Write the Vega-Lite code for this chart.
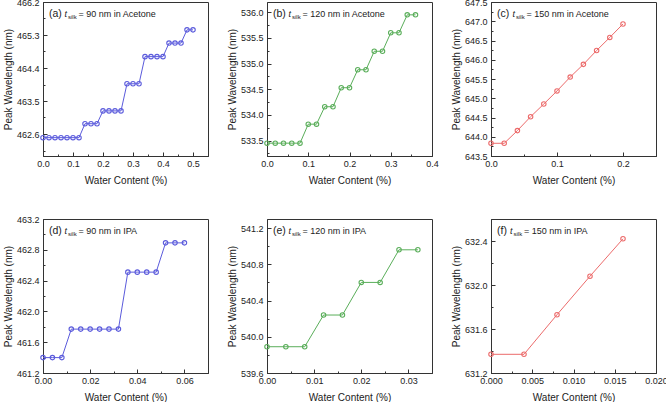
{
  "$schema": "https://vega.github.io/schema/vega-lite/v6.json",
  "padding": {"left": 2, "top": -3, "right": 0, "bottom": 0},
  "background": "white",
  "datasets": {
    "a": [
      {"w": 0, "p": 462.5}, {"w": 0.02, "p": 462.5}, {"w": 0.04, "p": 462.5}, {"w": 0.06, "p": 462.5}, {"w": 0.08, "p": 462.5}, {"w": 0.1, "p": 462.5}, {"w": 0.12, "p": 462.5},
      {"w": 0.14, "p": 462.88}, {"w": 0.16, "p": 462.88}, {"w": 0.18, "p": 462.88},
      {"w": 0.2, "p": 463.23}, {"w": 0.22, "p": 463.23}, {"w": 0.24, "p": 463.23}, {"w": 0.26, "p": 463.23},
      {"w": 0.28, "p": 463.97}, {"w": 0.3, "p": 463.97}, {"w": 0.32, "p": 463.97},
      {"w": 0.34, "p": 464.71}, {"w": 0.36, "p": 464.71}, {"w": 0.38, "p": 464.71}, {"w": 0.4, "p": 464.71},
      {"w": 0.42, "p": 465.08}, {"w": 0.44, "p": 465.08}, {"w": 0.46, "p": 465.08},
      {"w": 0.48, "p": 465.44}, {"w": 0.5, "p": 465.44}
    ],
    "b": [
      {"w": 0, "p": 533.45}, {"w": 0.02, "p": 533.45}, {"w": 0.04, "p": 533.45}, {"w": 0.06, "p": 533.45}, {"w": 0.08, "p": 533.45},
      {"w": 0.1, "p": 533.82}, {"w": 0.12, "p": 533.82},
      {"w": 0.14, "p": 534.16}, {"w": 0.16, "p": 534.16},
      {"w": 0.18, "p": 534.53}, {"w": 0.2, "p": 534.53},
      {"w": 0.22, "p": 534.88}, {"w": 0.24, "p": 534.88},
      {"w": 0.26, "p": 535.24}, {"w": 0.28, "p": 535.24},
      {"w": 0.3, "p": 535.6}, {"w": 0.32, "p": 535.6},
      {"w": 0.34, "p": 535.95}, {"w": 0.36, "p": 535.95}
    ],
    "c": [
      {"w": 0, "p": 643.83}, {"w": 0.02, "p": 643.83}, {"w": 0.04, "p": 644.16}, {"w": 0.06, "p": 644.52}, {"w": 0.08, "p": 644.85},
      {"w": 0.1, "p": 645.19}, {"w": 0.12, "p": 645.55}, {"w": 0.14, "p": 645.88}, {"w": 0.16, "p": 646.24}, {"w": 0.18, "p": 646.58}, {"w": 0.2, "p": 646.93}
    ],
    "d": [
      {"w": 0, "p": 461.4}, {"w": 0.004, "p": 461.4}, {"w": 0.008, "p": 461.4},
      {"w": 0.012, "p": 461.77}, {"w": 0.016, "p": 461.77}, {"w": 0.02, "p": 461.77}, {"w": 0.024, "p": 461.77}, {"w": 0.028, "p": 461.77}, {"w": 0.032, "p": 461.77},
      {"w": 0.036, "p": 462.51}, {"w": 0.04, "p": 462.51}, {"w": 0.044, "p": 462.51}, {"w": 0.048, "p": 462.51},
      {"w": 0.052, "p": 462.89}, {"w": 0.056, "p": 462.89}, {"w": 0.06, "p": 462.89}
    ],
    "e": [
      {"w": 0, "p": 539.89}, {"w": 0.004, "p": 539.89}, {"w": 0.008, "p": 539.89},
      {"w": 0.012, "p": 540.24}, {"w": 0.016, "p": 540.24},
      {"w": 0.02, "p": 540.6}, {"w": 0.024, "p": 540.6},
      {"w": 0.028, "p": 540.96}, {"w": 0.032, "p": 540.96}
    ],
    "f": [
      {"w": 0, "p": 631.37}, {"w": 0.004, "p": 631.37}, {"w": 0.008, "p": 631.73}, {"w": 0.012, "p": 632.08}, {"w": 0.016, "p": 632.42}
    ]
  },
  "config": {
    "font": "Liberation Sans",
    "view": {"stroke": "#333", "strokeWidth": 1},
    "axis": {
      "grid": false, "domainColor": "#333", "tickColor": "#333", "labelColor": "#222", "titleColor": "#222",
      "labelFont": "Liberation Sans", "titleFont": "Liberation Sans", "labelFontSize": 9, "titleFontSize": 10,
      "titleFontWeight": "normal", "labelOverlap": false, "labelFlush": false, "tickWidth": 1
    },
    "axisX": {"labelPadding": 7, "titlePadding": 5},
    "axisY": {"labelPadding": 8, "titlePadding": 3},
    "text": {"font": "Liberation Sans", "align": "left", "baseline": "middle", "color": "#222"},
    "line": {"strokeWidth": 1},
    "point": {"shape": "circle", "filled": false, "size": 20, "strokeWidth": 1.1, "opacity": 1}
  },
  "columns": 3,
  "bounds": "flush",
  "spacing": {"row": 63, "column": 59},
  "concat": [
    {
      "width": 165, "height": 154,
      "layer": [
        {
          "data": {"name": "a"},
          "mark": {"type": "line", "color": "#5b5bdc"},
          "encoding": {
            "x": {"field": "w", "type": "quantitative", "scale": {"domain": [0, 0.55], "nice": false, "zero": false},
              "axis": {"title": "Water Content (%)", "tickCount": 100, "labelOverlap": false, "values": [0, 0.05, 0.1, 0.15, 0.2, 0.25, 0.3, 0.35, 0.4, 0.45, 0.5, 0.55], "format": ".1f",
                "labelExpr": "abs(datum.value*10-round(datum.value*10))>0.01 ? '' : datum.label",
                "tickSize": {"condition": {"test": "abs(datum.value*10-round(datum.value*10))>0.01", "value": -2}, "value": -4}}},
            "y": {"field": "p", "type": "quantitative", "scale": {"domain": [462.0, 466.2], "nice": false, "zero": false},
              "axis": {"title": "Peak Wavelength (nm)", "tickCount": 100, "labelOverlap": false, "values": [462.15, 462.6, 463.05, 463.5, 463.95, 464.4, 464.85, 465.3, 465.75, 466.2], "format": ".1f",
                "labelExpr": "abs((datum.value-462.6)/0.9-round((datum.value-462.6)/0.9))>0.1 ? '' : datum.label",
                "tickSize": {"condition": {"test": "abs((datum.value-462.6)/0.9-round((datum.value-462.6)/0.9))>0.1", "value": -2}, "value": -4}}}
          }
        },
        {"data": {"name": "a"}, "mark": {"type": "point", "color": "#5b5bdc"},
          "encoding": {"x": {"field": "w", "type": "quantitative"}, "y": {"field": "p", "type": "quantitative"}}},
        {"data": {"values": [{}]}, "mark": {"type": "text", "text": "(a)", "fontSize": 10.5},
          "encoding": {"x": {"datum": 0.02, "type": "quantitative"}, "y": {"datum": 465.87, "type": "quantitative"}}},
        {"data": {"values": [{}]}, "mark": {"type": "text", "text": "t", "fontSize": 9, "fontStyle": "italic", "dx": 15.5},
          "encoding": {"x": {"datum": 0.02, "type": "quantitative"}, "y": {"datum": 465.87, "type": "quantitative"}}},
        {"data": {"values": [{}]}, "mark": {"type": "text", "text": "silk", "fontSize": 6, "dx": 19, "dy": 3},
          "encoding": {"x": {"datum": 0.02, "type": "quantitative"}, "y": {"datum": 465.87, "type": "quantitative"}}},
        {"data": {"values": [{}]}, "mark": {"type": "text", "text": "= 90 nm in Acetone", "fontSize": 9, "dx": 29.5},
          "encoding": {"x": {"datum": 0.02, "type": "quantitative"}, "y": {"datum": 465.87, "type": "quantitative"}}}
      ]
    },
    {
      "width": 165, "height": 154,
      "layer": [
        {
          "data": {"name": "b"},
          "mark": {"type": "line", "color": "#5aae5a"},
          "encoding": {
            "x": {"field": "w", "type": "quantitative", "scale": {"domain": [0, 0.4], "nice": false, "zero": false},
              "axis": {"title": "Water Content (%)", "tickCount": 100, "labelOverlap": false, "values": [0, 0.05, 0.1, 0.15, 0.2, 0.25, 0.3, 0.35, 0.4], "format": ".1f",
                "labelExpr": "abs(datum.value*10-round(datum.value*10))>0.01 ? '' : datum.label",
                "tickSize": {"condition": {"test": "abs(datum.value*10-round(datum.value*10))>0.01", "value": -2}, "value": -4}}},
            "y": {"field": "p", "type": "quantitative", "scale": {"domain": [533.2, 536.2], "nice": false, "zero": false},
              "axis": {"title": "Peak Wavelength (nm)", "tickCount": 100, "labelOverlap": false, "values": [533.25, 533.5, 533.75, 534.0, 534.25, 534.5, 534.75, 535.0, 535.25, 535.5, 535.75, 536.0], "format": ".1f",
                "labelExpr": "abs(datum.value*2-round(datum.value*2))>0.1 ? '' : datum.label",
                "tickSize": {"condition": {"test": "abs(datum.value*2-round(datum.value*2))>0.1", "value": -2}, "value": -4}}}
          }
        },
        {"data": {"name": "b"}, "mark": {"type": "point", "color": "#5aae5a"},
          "encoding": {"x": {"field": "w", "type": "quantitative"}, "y": {"field": "p", "type": "quantitative"}}},
        {"data": {"values": [{}]}, "mark": {"type": "text", "text": "(b)", "fontSize": 10.5},
          "encoding": {"x": {"datum": 0.0145, "type": "quantitative"}, "y": {"datum": 535.966, "type": "quantitative"}}},
        {"data": {"values": [{}]}, "mark": {"type": "text", "text": "t", "fontSize": 9, "fontStyle": "italic", "dx": 15.5},
          "encoding": {"x": {"datum": 0.0145, "type": "quantitative"}, "y": {"datum": 535.966, "type": "quantitative"}}},
        {"data": {"values": [{}]}, "mark": {"type": "text", "text": "silk", "fontSize": 6, "dx": 19, "dy": 3},
          "encoding": {"x": {"datum": 0.0145, "type": "quantitative"}, "y": {"datum": 535.966, "type": "quantitative"}}},
        {"data": {"values": [{}]}, "mark": {"type": "text", "text": "= 120 nm in Acetone", "fontSize": 9, "dx": 29.5},
          "encoding": {"x": {"datum": 0.0145, "type": "quantitative"}, "y": {"datum": 535.966, "type": "quantitative"}}}
      ]
    },
    {
      "width": 165, "height": 154,
      "layer": [
        {
          "data": {"name": "c"},
          "mark": {"type": "line", "color": "#ec6b6b"},
          "encoding": {
            "x": {"field": "w", "type": "quantitative", "scale": {"domain": [0, 0.25], "nice": false, "zero": false},
              "axis": {"title": "Water Content (%)", "tickCount": 100, "labelOverlap": false, "values": [0, 0.05, 0.1, 0.15, 0.2, 0.25], "format": ".1f",
                "labelExpr": "abs(datum.value*10-round(datum.value*10))>0.01 ? '' : datum.label",
                "tickSize": {"condition": {"test": "abs(datum.value*10-round(datum.value*10))>0.01", "value": -2}, "value": -4}}},
            "y": {"field": "p", "type": "quantitative", "scale": {"domain": [643.5, 647.5], "nice": false, "zero": false},
              "axis": {"title": "Peak Wavelength (nm)", "tickCount": 100, "labelOverlap": false, "values": [643.5, 643.75, 644.0, 644.25, 644.5, 644.75, 645.0, 645.25, 645.5, 645.75, 646.0, 646.25, 646.5, 646.75, 647.0, 647.25, 647.5], "format": ".1f",
                "labelExpr": "abs(datum.value*2-round(datum.value*2))>0.1 ? '' : datum.label",
                "tickSize": {"condition": {"test": "abs(datum.value*2-round(datum.value*2))>0.1", "value": -2}, "value": -4}}}
          }
        },
        {"data": {"name": "c"}, "mark": {"type": "point", "color": "#ec6b6b"},
          "encoding": {"x": {"field": "w", "type": "quantitative"}, "y": {"field": "p", "type": "quantitative"}}},
        {"data": {"values": [{}]}, "mark": {"type": "text", "text": "(c)", "fontSize": 10.5},
          "encoding": {"x": {"datum": 0.0091, "type": "quantitative"}, "y": {"datum": 647.19, "type": "quantitative"}}},
        {"data": {"values": [{}]}, "mark": {"type": "text", "text": "t", "fontSize": 9, "fontStyle": "italic", "dx": 15.5},
          "encoding": {"x": {"datum": 0.0091, "type": "quantitative"}, "y": {"datum": 647.19, "type": "quantitative"}}},
        {"data": {"values": [{}]}, "mark": {"type": "text", "text": "silk", "fontSize": 6, "dx": 19, "dy": 3},
          "encoding": {"x": {"datum": 0.0091, "type": "quantitative"}, "y": {"datum": 647.19, "type": "quantitative"}}},
        {"data": {"values": [{}]}, "mark": {"type": "text", "text": "= 150 nm in Acetone", "fontSize": 9, "dx": 29.5},
          "encoding": {"x": {"datum": 0.0091, "type": "quantitative"}, "y": {"datum": 647.19, "type": "quantitative"}}}
      ]
    },
    {
      "width": 165, "height": 154,
      "layer": [
        {
          "data": {"name": "d"},
          "mark": {"type": "line", "color": "#5b5bdc"},
          "encoding": {
            "x": {"field": "w", "type": "quantitative", "scale": {"domain": [0, 0.07], "nice": false, "zero": false},
              "axis": {"title": "Water Content (%)", "tickCount": 100, "labelOverlap": false, "values": [0, 0.01, 0.02, 0.03, 0.04, 0.05, 0.06, 0.07], "format": ".2f",
                "labelExpr": "abs(datum.value*50-round(datum.value*50))>0.01 ? '' : datum.label",
                "tickSize": {"condition": {"test": "abs(datum.value*50-round(datum.value*50))>0.01", "value": -2}, "value": -4}}},
            "y": {"field": "p", "type": "quantitative", "scale": {"domain": [461.2, 463.2], "nice": false, "zero": false},
              "axis": {"title": "Peak Wavelength (nm)", "tickCount": 100, "labelOverlap": false, "values": [461.2, 461.4, 461.6, 461.8, 462.0, 462.2, 462.4, 462.6, 462.8, 463.0, 463.2], "format": ".1f",
                "labelExpr": "abs((datum.value-461.2)/0.4-round((datum.value-461.2)/0.4))>0.1 ? '' : datum.label",
                "tickSize": {"condition": {"test": "abs((datum.value-461.2)/0.4-round((datum.value-461.2)/0.4))>0.1", "value": -2}, "value": -4}}}
          }
        },
        {"data": {"name": "d"}, "mark": {"type": "point", "color": "#5b5bdc"},
          "encoding": {"x": {"field": "w", "type": "quantitative"}, "y": {"field": "p", "type": "quantitative"}}},
        {"data": {"values": [{}]}, "mark": {"type": "text", "text": "(d)", "fontSize": 10.5},
          "encoding": {"x": {"datum": 0.00255, "type": "quantitative"}, "y": {"datum": 463.044, "type": "quantitative"}}},
        {"data": {"values": [{}]}, "mark": {"type": "text", "text": "t", "fontSize": 9, "fontStyle": "italic", "dx": 15.5},
          "encoding": {"x": {"datum": 0.00255, "type": "quantitative"}, "y": {"datum": 463.044, "type": "quantitative"}}},
        {"data": {"values": [{}]}, "mark": {"type": "text", "text": "silk", "fontSize": 6, "dx": 19, "dy": 3},
          "encoding": {"x": {"datum": 0.00255, "type": "quantitative"}, "y": {"datum": 463.044, "type": "quantitative"}}},
        {"data": {"values": [{}]}, "mark": {"type": "text", "text": "= 90 nm in IPA", "fontSize": 9, "dx": 29.5},
          "encoding": {"x": {"datum": 0.00255, "type": "quantitative"}, "y": {"datum": 463.044, "type": "quantitative"}}}
      ]
    },
    {
      "width": 165, "height": 154,
      "layer": [
        {
          "data": {"name": "e"},
          "mark": {"type": "line", "color": "#5aae5a"},
          "encoding": {
            "x": {"field": "w", "type": "quantitative", "scale": {"domain": [0, 0.035], "nice": false, "zero": false},
              "axis": {"title": "Water Content (%)", "tickCount": 100, "labelOverlap": false, "values": [0, 0.005, 0.01, 0.015, 0.02, 0.025, 0.03, 0.035], "format": ".2f",
                "labelExpr": "abs(datum.value*100-round(datum.value*100))>0.01 ? '' : datum.label",
                "tickSize": {"condition": {"test": "abs(datum.value*100-round(datum.value*100))>0.01", "value": -2}, "value": -4}}},
            "y": {"field": "p", "type": "quantitative", "scale": {"domain": [539.6, 541.3], "nice": false, "zero": false},
              "axis": {"title": "Peak Wavelength (nm)", "tickCount": 100, "labelOverlap": false, "values": [539.6, 539.8, 540.0, 540.2, 540.4, 540.6, 540.8, 541.0, 541.2], "format": ".1f",
                "labelExpr": "abs((datum.value-539.6)/0.4-round((datum.value-539.6)/0.4))>0.1 ? '' : datum.label",
                "tickSize": {"condition": {"test": "abs((datum.value-539.6)/0.4-round((datum.value-539.6)/0.4))>0.1", "value": -2}, "value": -4}}}
          }
        },
        {"data": {"name": "e"}, "mark": {"type": "point", "color": "#5aae5a"},
          "encoding": {"x": {"field": "w", "type": "quantitative"}, "y": {"field": "p", "type": "quantitative"}}},
        {"data": {"values": [{}]}, "mark": {"type": "text", "text": "(e)", "fontSize": 10.5},
          "encoding": {"x": {"datum": 0.00127, "type": "quantitative"}, "y": {"datum": 541.167, "type": "quantitative"}}},
        {"data": {"values": [{}]}, "mark": {"type": "text", "text": "t", "fontSize": 9, "fontStyle": "italic", "dx": 15.5},
          "encoding": {"x": {"datum": 0.00127, "type": "quantitative"}, "y": {"datum": 541.167, "type": "quantitative"}}},
        {"data": {"values": [{}]}, "mark": {"type": "text", "text": "silk", "fontSize": 6, "dx": 19, "dy": 3},
          "encoding": {"x": {"datum": 0.00127, "type": "quantitative"}, "y": {"datum": 541.167, "type": "quantitative"}}},
        {"data": {"values": [{}]}, "mark": {"type": "text", "text": "= 120 nm in IPA", "fontSize": 9, "dx": 29.5},
          "encoding": {"x": {"datum": 0.00127, "type": "quantitative"}, "y": {"datum": 541.167, "type": "quantitative"}}}
      ]
    },
    {
      "width": 165, "height": 154,
      "layer": [
        {
          "data": {"name": "f"},
          "mark": {"type": "line", "color": "#ec6b6b"},
          "encoding": {
            "x": {"field": "w", "type": "quantitative", "scale": {"domain": [0, 0.02], "nice": false, "zero": false},
              "axis": {"title": "Water Content (%)", "tickCount": 100, "labelOverlap": false, "values": [0, 0.0025, 0.005, 0.0075, 0.01, 0.0125, 0.015, 0.0175, 0.02], "format": ".3f",
                "labelExpr": "abs(datum.value*200-round(datum.value*200))>0.01 ? '' : datum.label",
                "tickSize": {"condition": {"test": "abs(datum.value*200-round(datum.value*200))>0.01", "value": -2}, "value": -4}}},
            "y": {"field": "p", "type": "quantitative", "scale": {"domain": [631.2, 632.6], "nice": false, "zero": false},
              "axis": {"title": "Peak Wavelength (nm)", "tickCount": 100, "labelOverlap": false, "values": [631.2, 631.4, 631.6, 631.8, 632.0, 632.2, 632.4, 632.6], "format": ".1f",
                "labelExpr": "abs((datum.value-631.2)/0.4-round((datum.value-631.2)/0.4))>0.1 ? '' : datum.label",
                "tickSize": {"condition": {"test": "abs((datum.value-631.2)/0.4-round((datum.value-631.2)/0.4))>0.1", "value": -2}, "value": -4}}}
          }
        },
        {"data": {"name": "f"}, "mark": {"type": "point", "color": "#ec6b6b"},
          "encoding": {"x": {"field": "w", "type": "quantitative"}, "y": {"field": "p", "type": "quantitative"}}},
        {"data": {"values": [{}]}, "mark": {"type": "text", "text": "(f)", "fontSize": 10.5},
          "encoding": {"x": {"datum": 0.000727, "type": "quantitative"}, "y": {"datum": 632.491, "type": "quantitative"}}},
        {"data": {"values": [{}]}, "mark": {"type": "text", "text": "t", "fontSize": 9, "fontStyle": "italic", "dx": 13},
          "encoding": {"x": {"datum": 0.000727, "type": "quantitative"}, "y": {"datum": 632.491, "type": "quantitative"}}},
        {"data": {"values": [{}]}, "mark": {"type": "text", "text": "silk", "fontSize": 6, "dx": 16.5, "dy": 3},
          "encoding": {"x": {"datum": 0.000727, "type": "quantitative"}, "y": {"datum": 632.491, "type": "quantitative"}}},
        {"data": {"values": [{}]}, "mark": {"type": "text", "text": "= 150 nm in IPA", "fontSize": 9, "dx": 27},
          "encoding": {"x": {"datum": 0.000727, "type": "quantitative"}, "y": {"datum": 632.491, "type": "quantitative"}}}
      ]
    }
  ]
}
